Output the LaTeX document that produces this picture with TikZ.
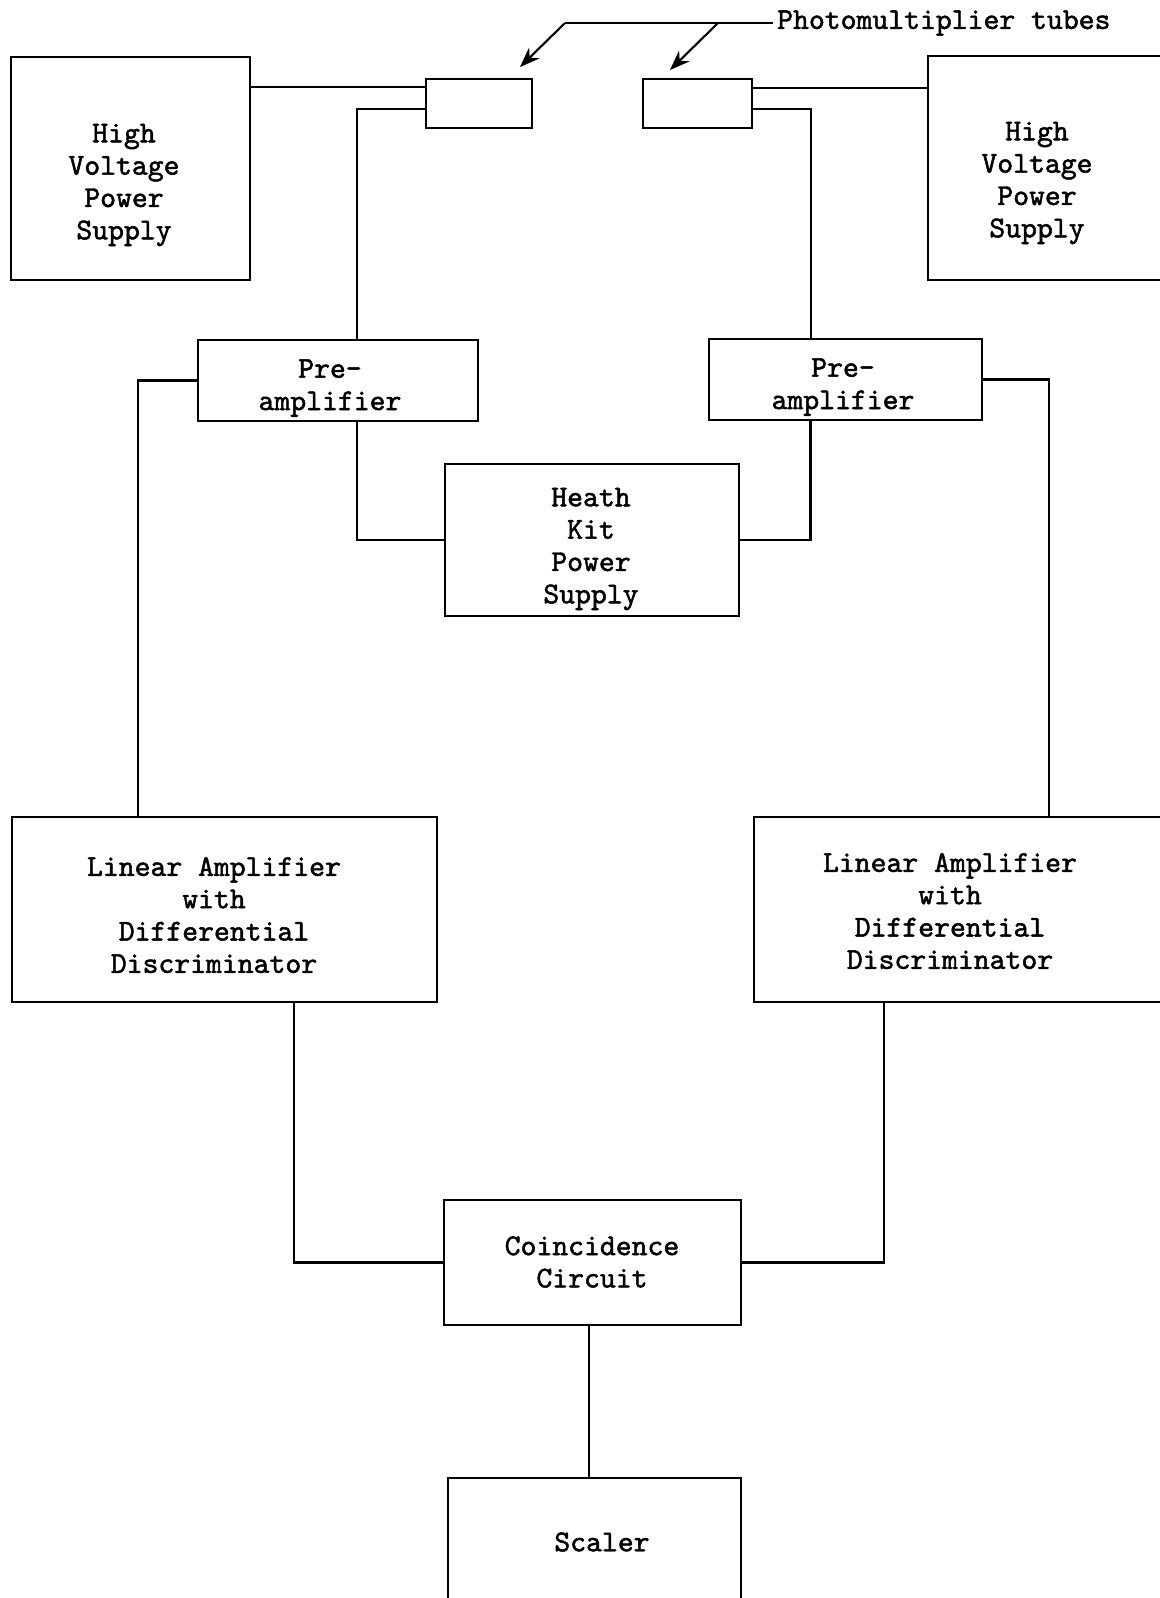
\documentclass[tikz,border=0pt]{standalone}
\usepackage{fontspec}
\setmonofont{lmmono10-regular.otf}[FakeBold=1.6]
\usetikzlibrary{arrows.meta}

\begin{document}
\begin{tikzpicture}[x=1cm,y=-1cm,
	box/.style={draw,line width=0.7pt,inner sep=0pt},
	txt/.style={align=center,inner sep=1pt,font=\ttfamily\fontsize{8.6}{9.2}\selectfont},
	wire/.style={line width=0.7pt},
	pointer/.style={line width=0.6pt,-{Stealth[length=2mm,width=1.5mm]}}]
		\useasboundingbox (0,0) rectangle (11.59,15.98);
		% boxes
		\node[box,minimum width=2.39cm,minimum height=2.23cm](hvl) at (1.305,1.685) {};
		\node[box,minimum width=2.72cm,minimum height=2.24cm](hvr) at (10.64,1.68) {};
		\node[box,minimum width=1.06cm,minimum height=0.49cm](pmtl) at (4.79,1.035) {};
		\node[box,minimum width=1.09cm,minimum height=0.49cm](pmtr) at (6.975,1.035) {};
		\node[box,minimum width=2.80cm,minimum height=0.81cm](prel) at (3.38,3.805) {};
		\node[box,minimum width=2.73cm,minimum height=0.81cm](prer) at (8.455,3.795) {};
		\node[box,minimum width=2.94cm,minimum height=1.52cm](heath) at (5.92,5.40) {};
		\node[box,minimum width=4.25cm,minimum height=1.85cm](linl) at (2.245,9.095) {};
		\node[box,minimum width=4.46cm,minimum height=1.85cm](linr) at (9.77,9.095) {};
		\node[box,minimum width=2.97cm,minimum height=1.25cm](coinc) at (5.925,12.625) {};
		\node[box,minimum width=2.93cm,minimum height=1.72cm](scaler) at (5.945,15.64) {};
		% texts
		\node[txt](hvltext) at (1.24,1.85) {High\\Voltage\\Power\\Supply};
		\node[txt](hvrtext) at (10.37,1.83) {High\\Voltage\\Power\\Supply};
		\node[txt](preltext) at (3.30,3.88) {Pre-\\amplifier};
		\node[txt](prertext) at (8.43,3.87) {Pre-\\amplifier};
		\node[txt](heathtext) at (5.91,5.49) {Heath\\Kit\\Power\\Supply};
		\node[txt](linltext) at (2.14,9.15) {Linear Amplifier\\with\\Differential\\Discriminator};
		\node[txt](linrtext) at (9.50,9.11) {Linear Amplifier\\with\\Differential\\Discriminator};
		\node[txt](coinctext) at (5.92,12.62) {Coincidence\\Circuit};
		\node[txt](scalertext) at (6.02,15.42) {Scaler};
		\node[txt,anchor=west](tubes) at (7.73,0.23) {Photomultiplier tubes};
		% tube pointers
		\coordinate (lead) at (5.65,0.23);
		\coordinate (fork) at (7.18,0.23);
		\coordinate (tipl) at (5.20,0.67);
		\coordinate (tipr) at (6.70,0.70);
		\draw [wire] (tubes.west) -- (lead);
		\draw [pointer] (lead) -- (tipl);
		\draw [pointer] (fork) -- (tipr);
		% wiring
		\coordinate (pmtlA) at ([yshift=1.65mm]pmtl.west);
		\coordinate (pmtlB) at ([yshift=-0.55mm]pmtl.west);
		\coordinate (pmtrA) at ([yshift=1.55mm]pmtr.east);
		\coordinate (pmtrB) at ([yshift=-0.55mm]pmtr.east);
		\draw [wire] (pmtlA) -- (pmtlA -| hvl.east);
		\draw [wire] (pmtrA) -- (pmtrA -| hvr.west);
		\draw [wire] (pmtlB) -| ([xshift=1.9mm]prel.north);
		\draw [wire] (pmtrB) -| ([xshift=-3.45mm]prer.north);
		\draw [wire] ([xshift=1.9mm]prel.south) |- (heath.west);
		\draw [wire] ([xshift=-3.5mm]prer.south) |- (heath.east);
		\draw [wire] (prel.west) -| ([xshift=-8.65mm]linl.north);
		\draw [wire] (prer.east) -| ([xshift=7.2mm]linr.north);
		\draw [wire] ([xshift=6.95mm]linl.south) |- (coinc.west);
		\draw [wire] ([xshift=-9.3mm]linr.south) |- (coinc.east);
		\coordinate (cdown) at ([xshift=-0.35mm]coinc.south);
		\draw [wire] (cdown) -- (cdown |- scaler.north);
	\end{tikzpicture}
\end{document}
